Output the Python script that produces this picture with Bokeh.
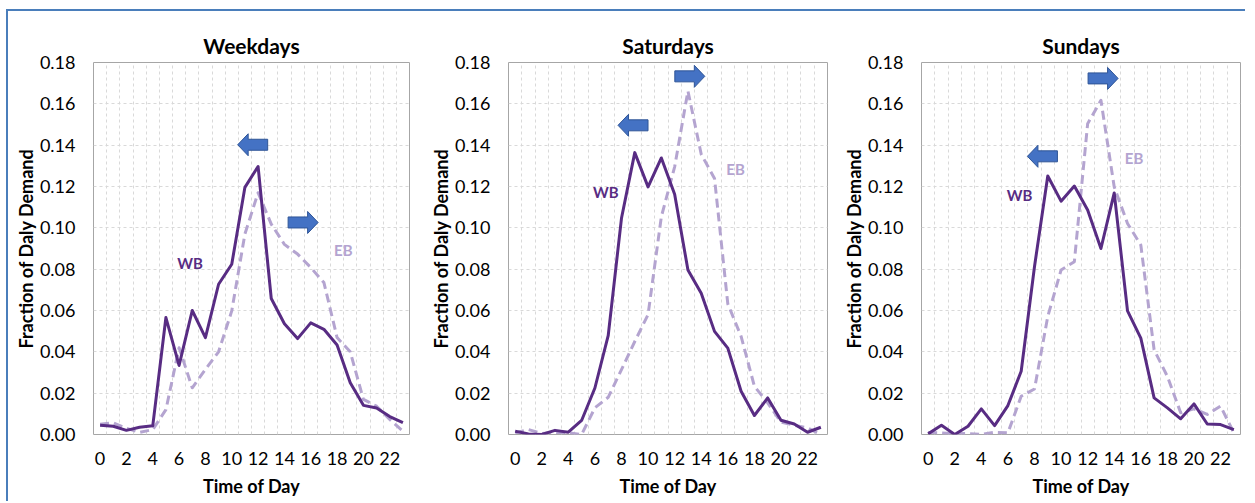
from bokeh.plotting import figure
from bokeh.layouts import row
from bokeh.models import FixedTicker, NumeralTickFormatter, Range1d
from bokeh.core.properties import value
from bokeh.embed import file_html
from bokeh.resources import INLINE

# ---------------- data ----------------
hours = list(range(24))
x_ticks = list(range(0, 24, 2))
y_ticks = [0.00, 0.02, 0.04, 0.06, 0.08, 0.10, 0.12, 0.14, 0.16, 0.18]

titles = ["Weekdays", "Saturdays", "Sundays"]

weekday_wb = [0.0045, 0.0040, 0.0020, 0.0035, 0.0042, 0.0566, 0.0334, 0.0600,
              0.0469, 0.0727, 0.0824, 0.1196, 0.1297, 0.0658, 0.0536, 0.0464,
              0.0540, 0.0509, 0.0433, 0.0250, 0.0141, 0.0128, 0.0087, 0.0057]
weekday_eb = [0.0050, 0.0057, 0.0030, 0.0010, 0.0024, 0.0120, 0.0420, 0.0226,
              0.0315, 0.0400, 0.0598, 0.0970, 0.1170, 0.1018, 0.0920, 0.0873,
              0.0808, 0.0735, 0.0469, 0.0400, 0.0170, 0.0137, 0.0073, 0.0016]

saturday_wb = [0.0016, 0.0003, 0.0000, 0.0020, 0.0011, 0.0068, 0.0225, 0.0478,
               0.1046, 0.1364, 0.1198, 0.1338, 0.1163, 0.0796, 0.0684, 0.0499,
               0.0418, 0.0209, 0.0092, 0.0177, 0.0069, 0.0051, 0.0011, 0.0035]
saturday_eb = [0.0008, 0.0024, 0.0005, 0.0010, 0.0008, 0.0000, 0.0129, 0.0180,
               0.0314, 0.0450, 0.0580, 0.1054, 0.1295, 0.1662, 0.1356, 0.1239,
               0.0632, 0.0475, 0.0233, 0.0153, 0.0060, 0.0045, 0.0032, 0.0000]

sunday_wb = [0.0003, 0.0045, 0.0000, 0.0040, 0.0124, 0.0043, 0.0140, 0.0306,
             0.0812, 0.1251, 0.1129, 0.1202, 0.1086, 0.0900, 0.1169, 0.0598,
             0.0466, 0.0177, 0.0129, 0.0076, 0.0148, 0.0051, 0.0048, 0.0024]
sunday_eb = [0.0010, 0.0008, 0.0003, 0.0005, 0.0000, 0.0011, 0.0008, 0.0185,
             0.0220, 0.0571, 0.0796, 0.0836, 0.1504, 0.1617, 0.1198, 0.1021,
             0.0917, 0.0410, 0.0281, 0.0105, 0.0124, 0.0097, 0.0137, 0.0008]

wb_series = [weekday_wb, saturday_wb, sunday_wb]
eb_series = [weekday_eb, saturday_eb, sunday_eb]

# label anchors (hour, value)
wb_label_pos = [(6.83, 0.0830), (6.82, 0.1175), (6.87, 0.1160)]
eb_label_pos = [(18.47, 0.0893), (16.58, 0.1284), (15.49, 0.1340)]
# arrow tips (hour, value): westbound arrow points left, eastbound points right
left_arrow_tip = [(10.45, 0.1402), (7.74, 0.1496), (7.47, 0.1346)]
right_arrow_tip = [(16.56, 0.1026), (14.27, 0.1733), (14.29, 0.1723)]

# ---------------- style ----------------
FONT = "Lato"
WB_COLOR = "#582C83"
EB_COLOR = "#B4A4D0"
ARROW_FILL = "#4472C4"
ARROW_LINE = "#2F5597"
GRID = "#D9D9D9"

# per-panel geometry (pixels)
fig_widths = [414, 413, 410]
left_borders = [85, 86, 86]
right_borders = [13, 8, 5]
TOP_B = 51
BOT_B = 67
HEIGHT = 490


def arrow_poly(tip, direction, fw, fh):
    sx = 24.0 / fw      # hours per px
    sy = 0.18 / fh      # value per px
    L, HL, HH, BH = 30.0, 10.5, 11.0, 5.5
    pts = [(0, 0), (HL, HH), (HL, BH), (L, BH), (L, -BH), (HL, -BH), (HL, -HH)]
    xs = [tip[0] + direction * px * sx for px, _ in pts]
    ys = [tip[1] + py * sy for _, py in pts]
    return xs, ys


figs = []
for i in range(3):
    fw = fig_widths[i] - left_borders[i] - right_borders[i]
    fh = HEIGHT - TOP_B - BOT_B
    p = figure(width=fig_widths[i], height=HEIGHT, output_backend="svg",
               toolbar_location=None,
               x_range=Range1d(-0.5, 23.5), y_range=Range1d(0, 0.18),
               min_border_left=left_borders[i], min_border_right=right_borders[i],
               min_border_top=TOP_B, min_border_bottom=BOT_B)
    p.title.text = titles[i]
    p.title.align = "center"
    p.title.text_font = FONT
    p.title.text_font_size = "21px"
    p.title.text_font_style = "bold"
    p.title.text_color = "#000000"
    p.title.standoff = 10

    p.background_fill_color = "white"
    p.border_fill_color = "white"
    p.outline_line_color = "#A6A6A6"
    p.outline_line_width = 1

    # grids
    p.xgrid.ticker = FixedTicker(ticks=[h + 0.5 for h in hours[:-1]])
    p.ygrid.ticker = FixedTicker(ticks=y_ticks[1:-1])
    for g in (p.xgrid, p.ygrid):
        g.grid_line_color = GRID
        g.grid_line_dash = "3 3"
        g.grid_line_width = 1

    # axes
    p.xaxis.ticker = FixedTicker(ticks=x_ticks)
    p.yaxis.ticker = FixedTicker(ticks=y_ticks)
    p.yaxis.formatter = NumeralTickFormatter(format="0.00")
    for ax in (p.xaxis, p.yaxis):
        ax.axis_line_color = None
        ax.major_tick_line_color = None
        ax.minor_tick_line_color = None
        ax.major_label_text_font = FONT
        ax.major_label_text_font_size = "18px"
        ax.major_label_text_color = "#000000"
        ax.axis_label_text_font = FONT
        ax.axis_label_text_font_size = "18px"
        ax.axis_label_text_font_style = "bold"
        ax.axis_label_text_color = "#000000"
    p.xaxis.axis_label = "Time of Day"
    p.yaxis.axis_label = "Fraction of Daly Demand"
    p.xaxis.major_label_standoff = 11
    p.yaxis.major_label_standoff = 12
    p.xaxis.axis_label_standoff = 7
    p.yaxis.axis_label_standoff = 0

    # lines
    p.line(hours, eb_series[i], line_color=EB_COLOR, line_width=3,
           line_dash="9 5", line_join="round")
    p.line(hours, wb_series[i], line_color=WB_COLOR, line_width=3,
           line_join="round")

    # labels
    p.text(x=[wb_label_pos[i][0]], y=[wb_label_pos[i][1]], text=["WB"],
           text_font=value(FONT), text_font_size="15px", text_font_style="bold",
           text_color=WB_COLOR, text_align="center", text_baseline="middle")
    p.text(x=[eb_label_pos[i][0]], y=[eb_label_pos[i][1]], text=["EB"],
           text_font=value(FONT), text_font_size="15px", text_font_style="bold",
           text_color=EB_COLOR, text_align="center", text_baseline="middle")

    # arrows
    lx, ly = arrow_poly(left_arrow_tip[i], 1, fw, fh)
    rx, ry = arrow_poly(right_arrow_tip[i], -1, fw, fh)
    p.patches([lx, rx], [ly, ry], fill_color=ARROW_FILL, line_color=ARROW_LINE,
              line_width=1)
    figs.append(p)

layout = row(*figs, margin=(9, 0, 0, 6),
             styles={"border-left": "2px solid #4A7EBB",
                     "border-top": "2px solid #4A7EBB"})

open("out.html", "w").write(file_html(layout, INLINE))
